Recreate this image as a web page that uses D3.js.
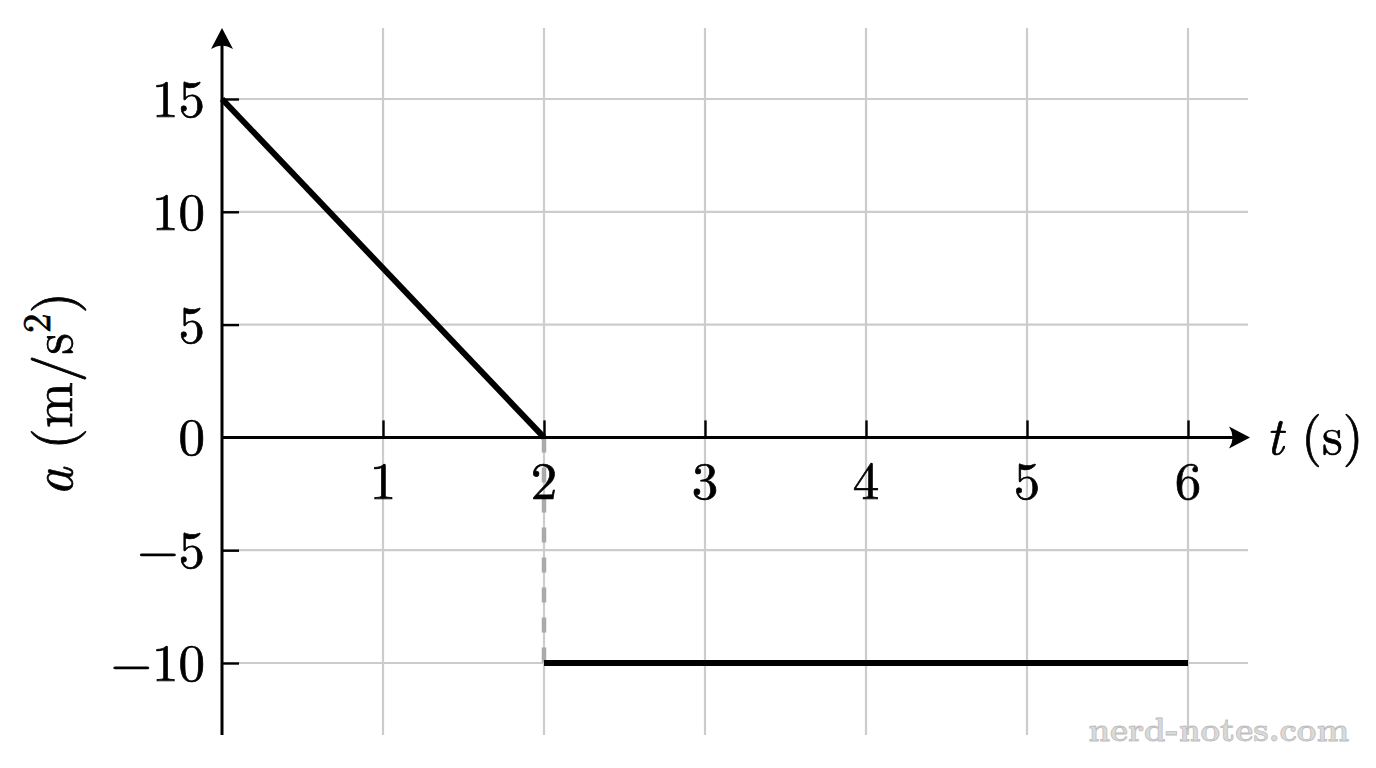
<!DOCTYPE html>
<html>
<head>
<meta charset="utf-8">
<script src="https://cdn.jsdelivr.net/npm/d3@7"></script>
<style>
  body { margin: 0; background: #fff; }
  text { font-family: "Latin Modern Roman", "Liberation Serif", "DejaVu Serif", serif; }
</style>
</head>
<body>
<div class="canvas"></div>
<script>
// data
const xTicks = [1, 2, 3, 4, 5, 6];
const yTicks = [-10, -5, 0, 5, 10, 15];
const xGrid = [1, 2, 3, 4, 5, 6];
const yGrid = [-10, -5, 5, 10, 15];
const segmentA = [{ t: 0, a: 15 }, { t: 2, a: 0 }];
const segmentB = [{ t: 2, a: -10 }, { t: 6, a: -10 }];
const jump = [{ t: 2, a: 0 }, { t: 2, a: -10 }];

const dims = { width: 1376, height: 768 };

const x = d3.scaleLinear().domain([0, 6]).range([222, 1188]);
const y = d3.scaleLinear().domain([-10, 15]).range([663, 99]);

const xMax = x.invert(1250);
const yMax = y.invert(28);
const yMin = y.invert(735);

const svg = d3
  .select(".canvas")
  .append("svg")
  .attr("width", dims.width)
  .attr("height", dims.height);

// grid
svg
  .append("g")
  .selectAll("line")
  .data(xGrid)
  .enter()
  .append("line")
  .attr("x1", (d) => x(d))
  .attr("x2", (d) => x(d))
  .attr("y1", y(yMax))
  .attr("y2", y(yMin))
  .attr("stroke", "#cccccc")
  .attr("stroke-width", 2.2);

svg
  .append("g")
  .selectAll("line")
  .data(yGrid)
  .enter()
  .append("line")
  .attr("x1", x(0))
  .attr("x2", x(xMax) - 2)
  .attr("y1", (d) => y(d))
  .attr("y2", (d) => y(d))
  .attr("stroke", "#cccccc")
  .attr("stroke-width", 2.2);

// dashed jump
const line = d3
  .line()
  .x((d) => x(d.t))
  .y((d) => y(d.a));

svg
  .append("path")
  .attr("d", line(jump))
  .attr("fill", "none")
  .attr("stroke", "#aaaaaa")
  .attr("stroke-width", 4.5)
  .attr("stroke-dasharray", "15,15");

// axes
const xAxis = d3
  .axisTop(x)
  .tickValues(xTicks)
  .tickSize(17)
  .tickFormat("");

const yAxis = d3
  .axisRight(y)
  .tickValues(yTicks.filter((d) => d !== 0))
  .tickSize(17)
  .tickFormat("");

const gx = svg
  .append("g")
  .attr("transform", `translate(0, ${y(0)})`)
  .call(xAxis);
gx.select(".domain").remove();
gx.selectAll("line").attr("stroke", "#000").attr("stroke-width", 2.4);

const gy = svg
  .append("g")
  .attr("transform", `translate(${x(0)}, 0)`)
  .call(yAxis);
gy.select(".domain").remove();
gy.selectAll("line").attr("stroke", "#000").attr("stroke-width", 2.4);

// axis lines with arrows
svg
  .append("line")
  .attr("x1", x(0))
  .attr("x2", x(xMax) - 8)
  .attr("y1", y(0))
  .attr("y2", y(0))
  .attr("stroke", "#000")
  .attr("stroke-width", 3);

svg
  .append("line")
  .attr("x1", x(0))
  .attr("x2", x(0))
  .attr("y1", y(yMin))
  .attr("y2", y(yMax) + 8)
  .attr("stroke", "#000")
  .attr("stroke-width", 3);

const ax = x(xMax);
const ay = y(0);
svg
  .append("path")
  .attr(
    "d",
    `M${ax},${ay} L${ax - 21},${ay - 11} Q${ax - 14},${ay} ${ax - 21},${ay + 11} Z`
  )
  .attr("fill", "#000");

const bx = x(0);
const by = y(yMax);
svg
  .append("path")
  .attr(
    "d",
    `M${bx},${by} L${bx - 11},${by + 21} Q${bx},${by + 14} ${bx + 11},${by + 21} Z`
  )
  .attr("fill", "#000");

// tick labels
const fmt = (d) => (d < 0 ? "\u2212" + Math.abs(d) : String(d));

svg
  .append("g")
  .selectAll("text")
  .data(yTicks)
  .enter()
  .append("text")
  .attr("x", x(0) - 17)
  .attr("y", (d) => y(d) + 18)
  .attr("text-anchor", "end")
  .attr("font-size", 53)
  .attr("fill", "#000")
  .attr("stroke", "#000")
  .attr("stroke-width", 0.7)
  .text(fmt);

svg
  .append("g")
  .selectAll("text")
  .data(xTicks)
  .enter()
  .append("text")
  .attr("x", (d) => x(d))
  .attr("y", y(0) + 62)
  .attr("text-anchor", "middle")
  .attr("font-size", 53)
  .attr("fill", "#000")
  .attr("stroke", "#000")
  .attr("stroke-width", 0.7)
  .text(fmt);

// data lines
svg
  .append("path")
  .attr("d", line(segmentA))
  .attr("fill", "none")
  .attr("stroke", "#000")
  .attr("stroke-width", 6);

svg
  .append("path")
  .attr("d", line(segmentB))
  .attr("fill", "none")
  .attr("stroke", "#000")
  .attr("stroke-width", 6);

// axis labels
const xLabel = svg
  .append("text")
  .attr("x", 1266)
  .attr("y", y(0) + 17)
  .attr("font-size", 53)
  .attr("fill", "#000")
  .attr("stroke", "#000")
  .attr("stroke-width", 0.7);
xLabel.append("tspan").attr("font-style", "italic").text("t");
xLabel.append("tspan").text(" (s)");

const yLabel = svg
  .append("text")
  .attr("transform", `translate(72, 394) rotate(-90)`)
  .attr("text-anchor", "middle")
  .attr("font-size", 55)
  .attr("fill", "#000")
  .attr("stroke", "#000")
  .attr("stroke-width", 0.7);
yLabel.append("tspan").attr("font-style", "italic").text("a");
yLabel.append("tspan").text(" (m/s");
yLabel
  .append("tspan")
  .attr("font-size", 39)
  .attr("dy", -22)
  .text("2");
yLabel.append("tspan").attr("dy", 22).text(")");

// watermark
svg
  .append("text")
  .attr("x", 1349)
  .attr("y", 741)
  .attr("text-anchor", "end")
  .attr("font-size", 34)
  .attr("font-weight", "bold")
  .attr("fill", "#dadada")
  .attr("stroke", "#bdbdbd")
  .attr("stroke-width", 0.8)
  .text("nerd-notes.com");
</script>
</body>
</html>
